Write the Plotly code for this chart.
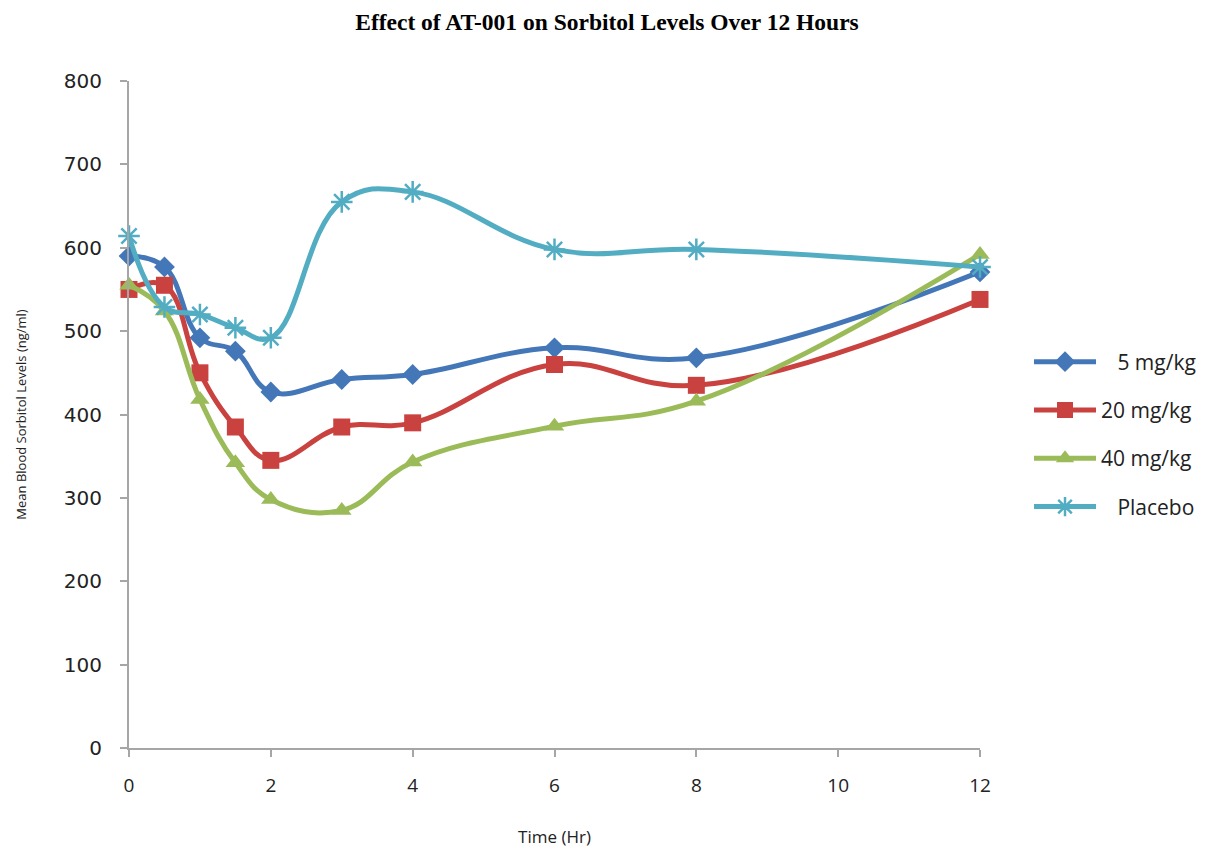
import plotly.graph_objects as go

time_hr = [0, 0.5, 1, 1.5, 2, 3, 4, 6, 8, 12]
dose_5 = [590, 577, 492, 476, 427, 442, 448, 480, 468, 571]
dose_20 = [550, 555, 450, 385, 345, 385, 390, 460, 435, 538]
dose_40 = [555, 524, 418, 342, 298, 285, 343, 386, 416, 592]
placebo = [614, 529, 520, 504, 492, 655, 667, 598, 598, 577]

series_names = ["\u00a0\u00a0\u00a05 mg/kg", "20 mg/kg", "40 mg/kg", "\u00a0\u00a0\u00a0Placebo"]
series_values = [dose_5, dose_20, dose_40, placebo]
colors = ["#4477B8", "#C9423F", "#9BBB59", "#52ADC3"]
symbols = ["diamond", "square", "triangle-up", "asterisk-open"]
sizes = [16, 17, 17, 18]

fig = go.Figure()
for i, (name, vals) in enumerate(zip(series_names, series_values)):
    marker = dict(symbol=symbols[i], size=sizes[i], color=colors[i])
    if symbols[i] == "asterisk-open":
        marker["line"] = dict(color=colors[i], width=2.5)
    else:
        marker["line"] = dict(width=0)
    fig.add_trace(go.Scatter(
        x=time_hr, y=vals, name=name, mode="lines+markers",
        line=dict(color=colors[i], width=5, shape="spline", smoothing=1.2),
        marker=marker, cliponaxis=False, legendgroup=f"g{i}",
    ))

fig.update_layout(
    width=1214, height=850,
    paper_bgcolor="white", plot_bgcolor="white",
    margin=dict(l=121, r=242, t=73, b=110, autoexpand=False),
    title=dict(text="<b>Effect of AT-001 on Sorbitol Levels Over 12 Hours</b>",
               x=0.4934, xref="container", xanchor="center",
               y=0.9835, yref="container", yanchor="middle",
               font=dict(family="Liberation Serif", size=23.5, color="#000000")),
    showlegend=True,
    legend=dict(x=1.0576, xanchor="left", y=0.47, yanchor="middle",
                font=dict(family="Open Sans", size=21, color="#222222"),
                tracegroupgap=18, itemwidth=62, bgcolor="rgba(0,0,0,0)"),
    xaxis=dict(range=[0, 12], tickvals=[0, 2, 4, 6, 8, 10, 12], automargin=False,
               showgrid=False, zeroline=False, showline=True,
               linecolor="#A6A6A6", linewidth=2, ticks="outside",
               tickcolor="#A6A6A6", ticklen=7, tickwidth=1.5,
               tickfont=dict(family="Open Sans", size=19, color="#222222"),
               ticklabelstandoff=12,
               title=dict(text="Time (Hr)", standoff=34,
                          font=dict(family="Open Sans", size=17, color="#222222"))),
    yaxis=dict(range=[0, 800], tickvals=[0, 100, 200, 300, 400, 500, 600, 700, 800],
               automargin=False,
               showgrid=False, zeroline=False, showline=True,
               linecolor="#A6A6A6", linewidth=2, ticks="outside",
               tickcolor="#A6A6A6", ticklen=7, tickwidth=1.5,
               tickfont=dict(family="DejaVu Sans", size=20, color="#222222"),
               ticklabelstandoff=14,
               title=dict(text="Mean Blood Sorbitol Levels (ng/ml)", standoff=34,
                          font=dict(family="Open Sans", size=13, color="#222222"))),
)

fig.write_html("out.html")
